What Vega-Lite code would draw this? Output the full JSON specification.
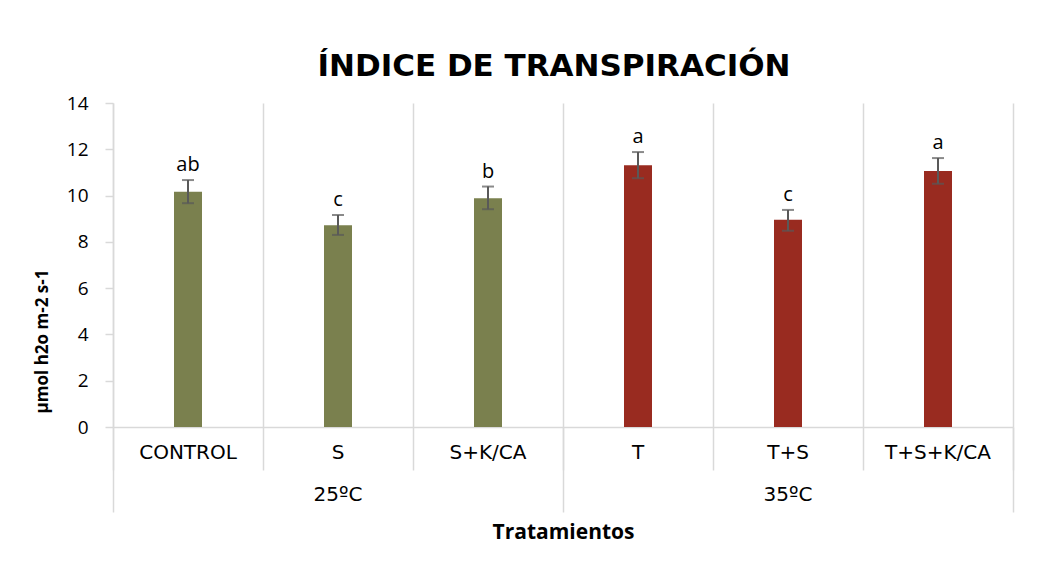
{
  "$schema": "https://vega.github.io/schema/vega-lite/v6.json",
  "width": 900,
  "height": 324,
  "autosize": {"type": "none"},
  "padding": {"left": 113, "top": 103, "right": 46, "bottom": 141},
  "background": "white",
  "config": {"view": {"stroke": null}, "font": "Open Sans"},
  "title": {
    "text": "ÍNDICE DE TRANSPIRACIÓN",
    "font": "DejaVu Sans",
    "fontSize": 31,
    "fontWeight": "bold",
    "color": "#000000",
    "anchor": "middle",
    "frame": "group",
    "baseline": "alphabetic",
    "offset": -13,
    "dx": -9
  },
  "datasets": {
    "tratamientos": [
      {"tratamiento": "CONTROL", "temperatura": "25ºC", "media": 10.17, "inf": 9.67, "sup": 10.67, "letra": "ab"},
      {"tratamiento": "S", "temperatura": "25ºC", "media": 8.72, "inf": 8.30, "sup": 9.16, "letra": "c"},
      {"tratamiento": "S+K/CA", "temperatura": "25ºC", "media": 9.88, "inf": 9.41, "sup": 10.39, "letra": "b"},
      {"tratamiento": "T", "temperatura": "35ºC", "media": 11.31, "inf": 10.75, "sup": 11.88, "letra": "a"},
      {"tratamiento": "T+S", "temperatura": "35ºC", "media": 8.95, "inf": 8.48, "sup": 9.38, "letra": "c"},
      {"tratamiento": "T+S+K/CA", "temperatura": "35ºC", "media": 11.06, "inf": 10.51, "sup": 11.62, "letra": "a"}
    ],
    "grupos": [
      {"grupo": "25ºC"},
      {"grupo": "35ºC"}
    ]
  },
  "layer": [
    {
      "data": {"name": "tratamientos"},
      "encoding": {
        "x": {
          "field": "tratamiento",
          "type": "nominal",
          "sort": null,
          "scale": {"type": "band", "paddingInner": 0, "paddingOuter": 0},
          "axis": {
            "orient": "bottom",
            "title": null,
            "bandPosition": 1,
            "tickExtra": true,
            "grid": true,
            "gridColor": "#d9d9d9",
            "gridWidth": 1.5,
            "ticks": true,
            "tickSize": 43,
            "tickColor": "#d9d9d9",
            "tickWidth": 1.5,
            "domainColor": "#d9d9d9",
            "domainWidth": 1.5,
            "labelPadding": -28,
            "labelAngle": 0,
            "labelFont": "DejaVu Sans",
            "labelFontSize": 20,
            "labelColor": "#000000",
            "labelBaseline": "top"
          }
        }
      },
      "layer": [
        {
          "mark": {"type": "bar", "size": 28},
          "encoding": {
            "y": {
              "field": "media",
              "type": "quantitative",
              "title": "µmol h2o m-2 s-1",
              "scale": {"domain": [0, 14], "nice": false},
              "axis": {
                "values": [0, 2, 4, 6, 8, 10, 12, 14],
                "titleFont": "Open Sans",
                "titleFontSize": 17,
                "titleFontWeight": "bold",
                "titleColor": "#000000",
                "titleAngle": -90,
                "titleX": -71,
                "titleY": 238,
                "titleAlign": "center",
                "titleBaseline": "middle",
                "grid": false,
                "domainColor": "#d9d9d9",
                "domainWidth": 1.5,
                "tickColor": "#d9d9d9",
                "tickWidth": 1.5,
                "tickSize": 8,
                "labelPadding": 17,
                "labelFont": "Open Sans",
                "labelFontSize": 19,
                "labelColor": "#000000"
              }
            },
            "color": {
              "field": "temperatura",
              "type": "nominal",
              "scale": {"domain": ["25ºC", "35ºC"], "range": ["#7a804e", "#992b20"]},
              "legend": null
            }
          }
        },
        {
          "mark": {"type": "errorbar", "ticks": {"size": 12, "thickness": 2}, "color": "#595959", "thickness": 2},
          "encoding": {
            "y": {"field": "inf", "type": "quantitative", "title": "µmol h2o m-2 s-1"},
            "y2": {"field": "sup"}
          }
        },
        {
          "mark": {"type": "text", "baseline": "alphabetic", "dy": -9, "font": "Open Sans", "fontSize": 20, "color": "#000000"},
          "encoding": {
            "y": {"field": "sup", "type": "quantitative", "title": "µmol h2o m-2 s-1"},
            "text": {"field": "letra"}
          }
        }
      ]
    },
    {
      "data": {"name": "grupos"},
      "mark": {"type": "text", "opacity": 0},
      "encoding": {
        "x": {
          "field": "grupo",
          "type": "nominal",
          "sort": null,
          "scale": {"type": "band", "paddingInner": 0, "paddingOuter": 0},
          "axis": {
            "orient": "bottom",
            "bandPosition": 1,
            "tickExtra": true,
            "grid": false,
            "domain": false,
            "ticks": true,
            "tickSize": 85,
            "tickColor": "#d9d9d9",
            "tickWidth": 1.5,
            "labelPadding": -28,
            "labelAngle": 0,
            "labelFont": "DejaVu Sans",
            "labelFontSize": 20,
            "labelColor": "#000000",
            "labelBaseline": "top",
            "title": "Tratamientos",
            "titleFont": "Open Sans",
            "titleFontSize": 21,
            "titleFontWeight": "bold",
            "titleColor": "#000000",
            "titleY": 105,
            "titleBaseline": "middle"
          }
        },
        "text": {"field": "grupo"}
      }
    }
  ],
  "resolve": {"scale": {"x": "independent"}, "axis": {"x": "independent"}}
}
